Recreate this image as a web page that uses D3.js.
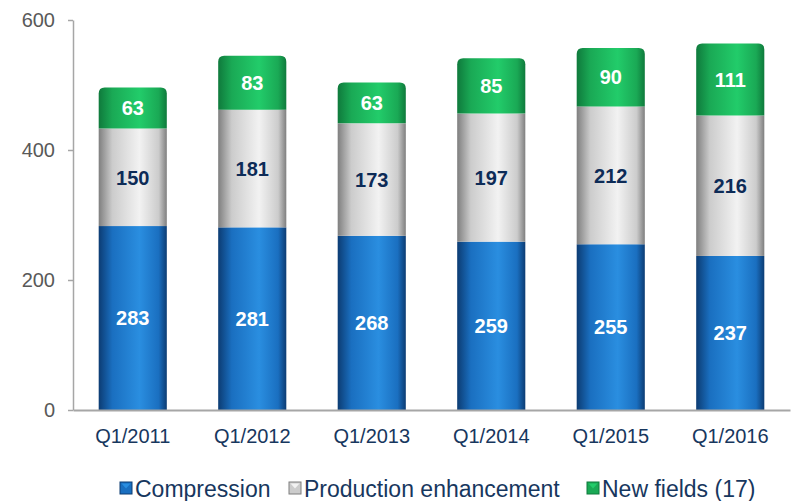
<!DOCTYPE html>
<html>
<head>
<meta charset="utf-8">
<script src="https://cdn.jsdelivr.net/npm/d3@7/dist/d3.min.js"></script>
<style>
  body { margin: 0; background: #fff; }
  svg text { font-family: "Liberation Sans", Arial, sans-serif; }
</style>
</head>
<body>
<svg id="chart" width="791" height="501"></svg>
<script>
const categories = ["Q1/2011", "Q1/2012", "Q1/2013", "Q1/2014", "Q1/2015", "Q1/2016"];
const compression = [283, 281, 268, 259, 255, 237];
const production = [150, 181, 173, 197, 212, 216];
const newFields = [63, 83, 63, 85, 90, 111];
const seriesNames = ["Compression", "Production enhancement", "New fields (17)"];
const yTicks = [0, 200, 400, 600];

const d3 = window.d3,
	width = 791,
	height = 501,
	margin = { top: 20, right: 1, bottom: 91, left: 73 };

const seriesColors = [
	{ dark: "#0c3c73", mid: "#1a6fc0", light: "#2a8ee0", label: "#ffffff" },
	{ dark: "#7f7f7f", mid: "#cccccc", light: "#f2f2f2", label: "#0d2b57" },
	{ dark: "#0f7a3c", mid: "#1aa955", light: "#22cc6a", label: "#ffffff" }
];

const svg = d3.select("#chart");
const defs = svg.append("defs");

seriesColors.forEach((c, i) => {
	const g = defs.append("linearGradient")
		.attr("id", "grad" + i)
		.attr("x1", "0").attr("x2", "1").attr("y1", "0").attr("y2", "0");
	g.append("stop").attr("offset", "0%").attr("stop-color", c.dark);
	g.append("stop").attr("offset", "20%").attr("stop-color", c.mid);
	g.append("stop").attr("offset", "60%").attr("stop-color", c.light);
	g.append("stop").attr("offset", "88%").attr("stop-color", c.mid);
	g.append("stop").attr("offset", "100%").attr("stop-color", c.dark);
});

const x = d3.scaleBand()
	.domain(categories)
	.range([margin.left, width - margin.right])
	.paddingInner(0.43)
	.paddingOuter(0.215);

const y = d3.scaleLinear()
	.domain([0, 600])
	.range([height - margin.bottom, margin.top]);

// y axis
const yAxis = svg.append("g")
	.attr("transform", `translate(${margin.left},0)`)
	.call(d3.axisLeft(y).tickValues(yTicks).tickSize(5).tickPadding(13).tickSizeOuter(0));
yAxis.select(".domain").attr("stroke", "#a6a6a6").attr("stroke-width", 1.5);
yAxis.selectAll(".tick line").attr("stroke", "#a6a6a6").attr("stroke-width", 1.5);
yAxis.selectAll(".tick text")
	.attr("fill", "#595959")
	.style("font-size", "20px");

// bars
const rows = categories.map((c, i) => ({
	cat: c,
	vals: [compression[i], production[i], newFields[i]]
}));

rows.forEach(r => {
	let base = 0;
	const bx = x(r.cat), bw = x.bandwidth();
	r.vals.forEach((v, si) => {
		const y0 = y(base), y1 = y(base + v);
		const isTop = si === r.vals.length - 1;
		if (isTop) {
			const rad = 6;
			svg.append("path")
				.attr("d", `M${bx},${y0} L${bx},${y1 + rad} Q${bx},${y1} ${bx + rad},${y1} L${bx + bw - rad},${y1} Q${bx + bw},${y1} ${bx + bw},${y1 + rad} L${bx + bw},${y0} Z`)
				.attr("fill", `url(#grad${si})`);
		} else {
			svg.append("rect")
				.attr("x", bx).attr("y", y1)
				.attr("width", bw).attr("height", y0 - y1)
				.attr("fill", `url(#grad${si})`);
		}
		svg.append("text")
			.attr("x", bx + bw / 2)
			.attr("y", (y0 + y1) / 2)
			.attr("dy", "0.36em")
			.attr("text-anchor", "middle")
			.attr("fill", seriesColors[si].label)
			.style("font-size", "20px")
			.style("font-weight", "bold")
			.text(v);
		base += v;
	});
});

// x axis
const xAxis = svg.append("g")
	.attr("transform", `translate(0,${y(0)})`)
	.call(d3.axisBottom(x).tickSize(0).tickPadding(19).tickSizeOuter(0));
xAxis.select(".domain").attr("stroke", "#a6a6a6").attr("stroke-width", 2);
xAxis.selectAll(".tick text")
	.attr("fill", "#17375e")
	.attr("dy", "0")
	.attr("y", 33)
	.style("font-size", "20px");

// legend
const legendX = [120, 289, 587];
const legend = svg.append("g");
seriesNames.forEach((name, i) => {
	const g = legend.append("g").attr("transform", `translate(${legendX[i]},482)`);
	g.append("rect")
		.attr("width", 12).attr("height", 12)
		.attr("fill", seriesColors[i].mid)
		.attr("stroke", seriesColors[i].dark)
		.attr("stroke-width", 1);
	g.append("path")
		.attr("d", "M1.5,1.5 L10.5,1.5 L6,6.5 Z")
		.attr("fill", seriesColors[i].light);
	g.append("text")
		.attr("x", 15)
		.attr("y", 15)
		.attr("fill", "#17375e")
		.style("font-size", "23px")
		.text(name);
});
</script>
</body>
</html>
